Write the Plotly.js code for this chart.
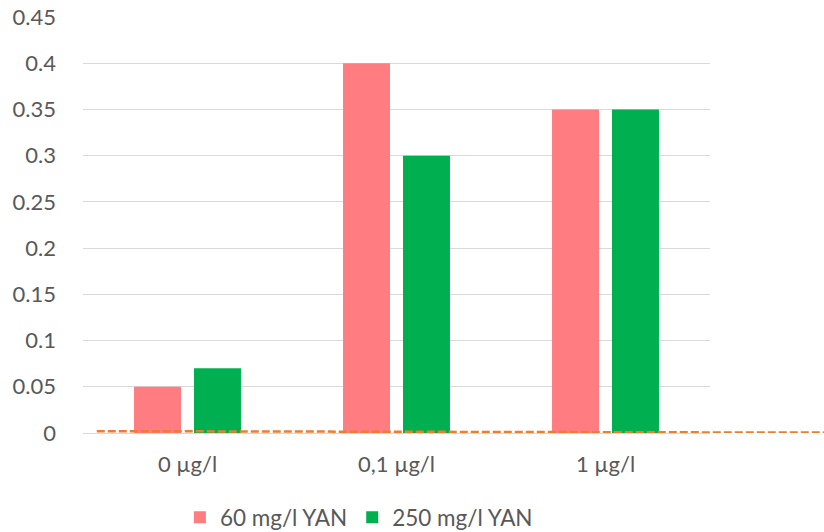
<!DOCTYPE html>
<html>
<head>
<meta charset="utf-8">
<script src="https://cdn.plot.ly/plotly-3.0.1.min.js"></script>
<style>html,body{margin:0;padding:0;background:#fff;}#chart{width:824px;height:532px;}</style>
</head>
<body>
<div id="chart"></div>
<script>
const categories = ["0 µg/l", "0,1 µg/l", "1 µg/l"];
const seriesNames = ["60 mg/l YAN", "250 mg/l YAN"];
const yan60 = [0.05, 0.4, 0.35];
const yan250 = [0.07, 0.3, 0.35];
const refLineY = [0.002, 0.0004];
const yTickVals = [0, 0.05, 0.1, 0.15, 0.2, 0.25, 0.3, 0.35, 0.4, 0.45];
const yTickText = ["0", "0.05", "0.1", "0.15", "0.2", "0.25", "0.3", "0.35", "0.4", "0.45"];

const font = "Lato, 'Open Sans', sans-serif";
const traces = [
  {type: "bar", name: seriesNames[0], x: categories, y: yan60, marker: {color: "#FF7C80"}},
  {type: "bar", name: seriesNames[1], x: categories, y: yan250, marker: {color: "#00B050"}}
];
const layout = {
  width: 824, height: 532,
  margin: {l: 83, r: 114, t: 17, b: 99, pad: 0, autoexpand: false},
  paper_bgcolor: "#fff", plot_bgcolor: "#fff",
  font: {family: font, size: 22, color: "#595959"},
  barmode: "group", bargap: 0.426, bargroupgap: 0.217,
  showlegend: true,
  legend: {orientation: "h", x: 0.44, xanchor: "center", xref: "paper", y: 0.027, yanchor: "middle", yref: "container", font: {size: 22.5, color: "#595959"}, traceorder: "normal", bgcolor: "rgba(0,0,0,0)"},
  xaxis: {type: "category", range: [-0.5, 2.5], showgrid: false, zeroline: false, showline: false, ticks: "", ticklabelstandoff: 16, tickfont: {size: 22}},
  yaxis: {range: [0, 0.45], tickvals: yTickVals, ticktext: yTickText, showgrid: true, gridcolor: "#D9D9D9", gridwidth: 1, zeroline: true, zerolinecolor: "#D9D9D9", zerolinewidth: 1, showline: false, ticks: "", ticklabelstandoff: 26, tickfont: {size: 22}},
  shapes: [
    {type: "line", xref: "paper", yref: "y", x0: 0.022, x1: 1.185, y0: refLineY[0], y1: refLineY[1], line: {color: "#ED7D31", width: 2.5, dash: "8px,3px"}, layer: "above"}
  ]
};
Plotly.newPlot("chart", traces, layout, {displayModeBar: false, staticPlot: true});
</script>
</body>
</html>
